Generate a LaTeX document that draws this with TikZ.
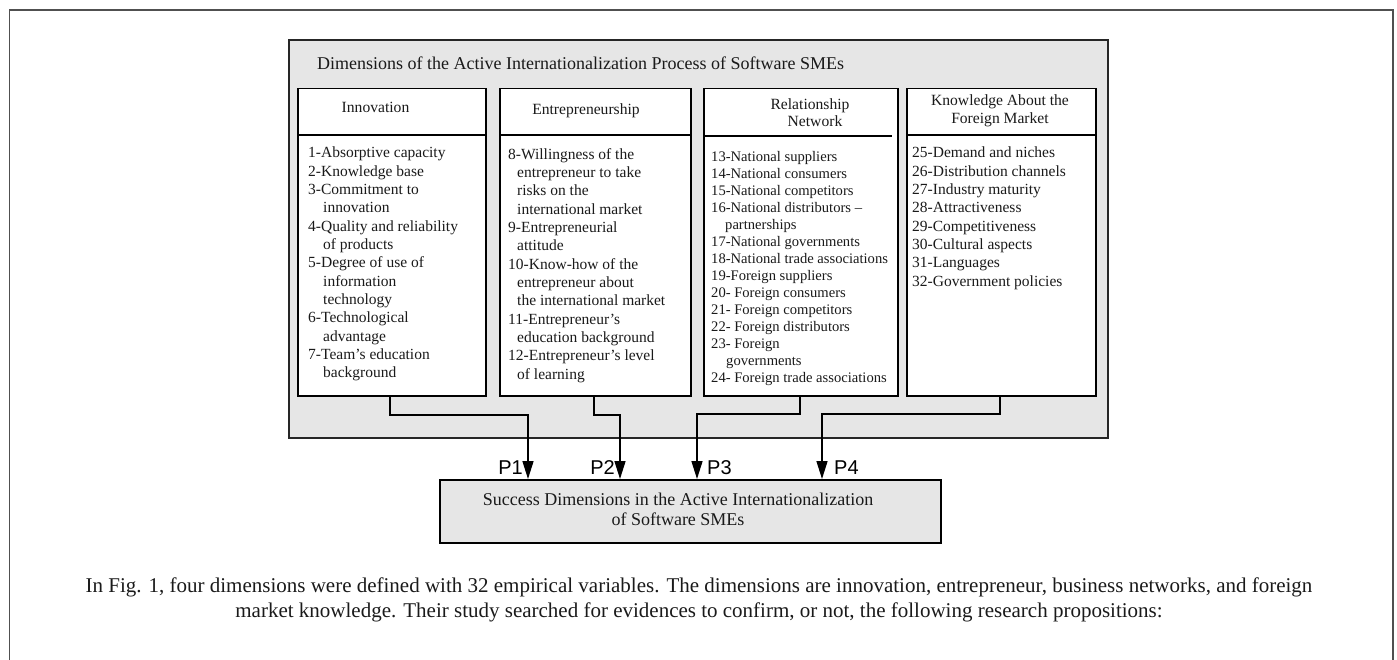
\documentclass[tikz,border=0pt]{standalone}
\usepackage{fontspec}
\setmainfont{Liberation Serif}
\newfontfamily\psans{Liberation Sans}
\usetikzlibrary{arrows.meta}
\definecolor{panel}{HTML}{E6E6E6}
\definecolor{ink}{HTML}{1A1A1A}
\definecolor{frame}{HTML}{505050}
\begin{document}
\begin{tikzpicture}[x=1pt,y=-1pt,
  panelbox/.style={draw=black!85, line width=2pt, fill=panel, inner sep=0, anchor=north west},
  dimbox/.style={draw=black, line width=1.5pt, fill=white, inner sep=0, anchor=north west},
  succbox/.style={draw=black, line width=2.2pt, fill=panel, inner sep=0, anchor=north west},
  itemtxt/.style={anchor=north west, align=left, inner sep=0, text=ink, font=\fontsize{15.5}{18.33}\selectfont},
  itemtxtb/.style={itemtxt, font=\fontsize{14.6}{17}\selectfont},
  headtxt/.style={align=center, inner sep=0, text=ink, font=\fontsize{15.6}{17.5}\selectfont},
  conn/.style={line width=1.5pt, draw=black},
  arr/.style={conn, -{Triangle[length=18pt,width=11pt]}},
  plabel/.style={inner sep=0, text=black, font=\psans\fontsize{20}{20}\selectfont}]
\useasboundingbox (0,0) rectangle (1397,660);
% outer frame
\draw[frame, line width=1.5pt] (9.5,670) -- (9.5,10) -- (1393,10) -- (1393,670);
% panel
\node[panelbox, minimum width=819, minimum height=398] (panel) at (288,39) {};
\node[anchor=west, inner sep=0, text=ink, font=\fontsize{18}{20}\selectfont] (title) at (317,63)
  {Dimensions of the Active Internationalization Process of Software SMEs};
% dimension boxes
\node[dimbox, minimum width=188, minimum height=307] (inno) at (297,88) {};
\node[dimbox, minimum width=191, minimum height=307] (entr) at (499,88) {};
\node[dimbox, minimum width=194, minimum height=307] (rel)  at (703,88) {};
\node[dimbox, minimum width=189, minimum height=307] (know) at (906,88) {};
\draw[conn] (inno.west |- 0,135) -- (inno.east |- 0,135);
\draw[conn] (entr.west |- 0,135) -- (entr.east |- 0,135);
\draw[conn] (rel.west |- 0,136) -- (892,136);
\draw[conn] (know.west |- 0,135) -- (know.east |- 0,135);
% headers
\node[headtxt] (h1) at (375.5,107) {Innovation};
\node[headtxt] (h2) at (586,111) {Entrepreneurship};
\node[headtxt] (h3) at (810,112.5) {Relationship\\\hspace*{10pt}Network};
\node[headtxt] (h4) at (1000,111) {Knowledge About the\\Foreign Market};
% items
\node[itemtxt] (l1) at (308,147) {1-Absorptive capacity\\
2-Knowledge base\\
3-Commitment to\\
\hspace*{15pt}innovation\\
4-Quality and reliability\\
\hspace*{15pt}of products\\
5-Degree of use of\\
\hspace*{15pt}information\\
\hspace*{15pt}technology\\
6-Technological\\
\hspace*{15pt}advantage\\
7-Team’s education\\
\hspace*{15pt}background};
\node[itemtxt] (l2) at (508,148) {8-Willingness of the\\
\hspace*{9pt}entrepreneur to take\\
\hspace*{9pt}risks on the\\
\hspace*{9pt}international market\\
9-Entrepreneurial\\
\hspace*{9pt}attitude\\
10-Know-how of the\\
\hspace*{9pt}entrepreneur about\\
\hspace*{9pt}the international market\\
11-Entrepreneur’s\\
\hspace*{9pt}education background\\
12-Entrepreneur’s level\\
\hspace*{9pt}of learning};
\node[itemtxtb] (l3) at (711,151) {13-National suppliers\\
14-National consumers\\
15-National competitors\\
16-National distributors –\\
\hspace*{14pt}partnerships\\
17-National governments\\
18-National trade associations\\
19-Foreign suppliers\\
20- Foreign consumers\\
21- Foreign competitors\\
22- Foreign distributors\\
23- Foreign\\
\hspace*{15pt}governments\\
24- Foreign trade associations};
\node[itemtxt] (l4) at (912,147) {25-Demand and niches\\
26-Distribution channels\\
27-Industry maturity\\
28-Attractiveness\\
29-Competitiveness\\
30-Cultural aspects\\
31-Languages\\
32-Government policies};
% success box
\node[succbox, minimum width=501, minimum height=63] (succ) at (439,479) {};
\node[align=center, inner sep=0, text=ink, font=\fontsize{18}{20}\selectfont] (succtxt) at (678,509)
  {Success Dimensions in the Active Internationalization\\of Software SMEs};
% arrow targets
\coordinate (t1) at (succ.north -| 528,0);
\coordinate (t2) at (succ.north -| 620,0);
\coordinate (t3) at (succ.north -| 697,0);
\coordinate (t4) at (succ.north -| 822,0);
\draw[arr] (inno.south -| 390,0) -- (390,415) -| (t1);
\draw[arr] (entr.south -| 594,0) -- (594,415) -| (t2);
\draw[arr] (rel.south -| 800,0) -- (800,414) -| (t3);
\draw[arr] (know.south -| 1000,0) -- (1000,414) -| (t4);
\node[plabel, anchor=east] (p1) at (523,468) {P1};
\node[plabel, anchor=east] (p2) at (615,468) {P2};
\node[plabel, anchor=west] (p3) at (707,468) {P3};
\node[plabel, anchor=west] (p4) at (834,468) {P4};
% caption
\node[align=center, inner sep=0, text=ink, font=\fontsize{21}{25}\selectfont] (cap) at (699,599.5)
  {In Fig. 1, four dimensions were defined with 32 empirical variables. The dimensions are innovation, entrepreneur, business networks, and foreign\\
   market knowledge. Their study searched for evidences to confirm, or not, the following research propositions:};
\end{tikzpicture}
\end{document}
